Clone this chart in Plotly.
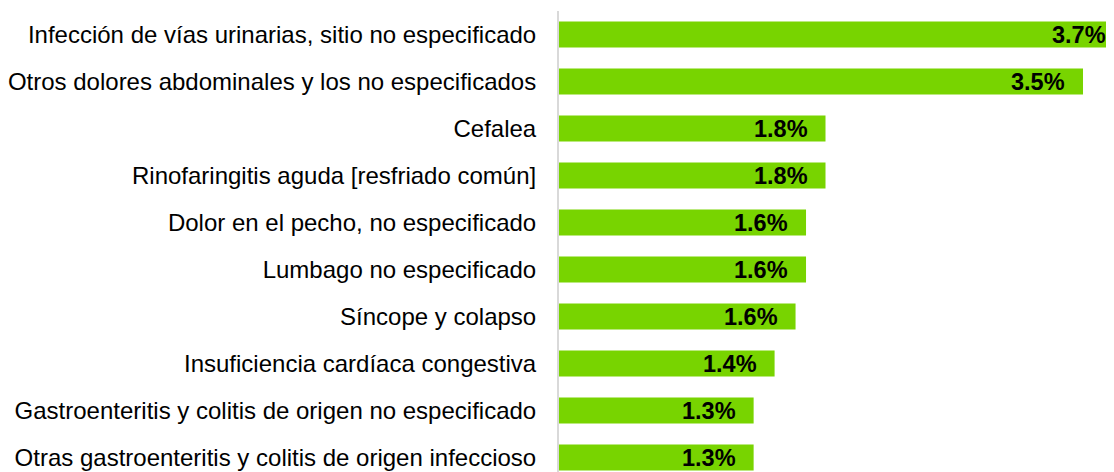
import plotly.graph_objects as go

categories = [
    "Infección de vías urinarias, sitio no especificado",
    "Otros dolores abdominales y los no especificados",
    "Cefalea",
    "Rinofaringitis aguda [resfriado común]",
    "Dolor en el pecho, no especificado",
    "Lumbago no especificado",
    "Síncope y colapso",
    "Insuficiencia cardíaca congestiva",
    "Gastroenteritis y colitis de origen no especificado",
    "Otras gastroenteritis y colitis de origen infeccioso",
]
values = [3.72, 3.50, 1.78, 1.78, 1.65, 1.65, 1.58, 1.44, 1.30, 1.30]
labels = ["3.7%", "3.5%", "1.8%", "1.8%", "1.6%", "1.6%", "1.6%", "1.4%", "1.3%", "1.3%"]

BAR_COLOR = "#78D400"
FONT = "Arial, 'Liberation Sans', sans-serif"
XMAX = 3.707

# page body has an 8px margin, so the figure is sized to fit the window
PAGE_PAD = 8
W, H = 1114 - PAGE_PAD, 472 - PAGE_PAD
M_T, M_L = 11 - PAGE_PAD, 559 - PAGE_PAD
slot_px = 47
n_units = (H - M_T) / slot_px

fig = go.Figure()
fig.add_trace(go.Bar(
    x=values, y=categories, orientation="h",
    marker=dict(color=BAR_COLOR, line=dict(width=0)),
    hoverinfo="skip",
))

annotations = []
for c, v, t in zip(categories, values, labels):
    clipped = v > XMAX
    annotations.append(dict(
        x=min(v, XMAX), y=c, xref="x", yref="y",
        text=f"<b>{t}</b>", showarrow=False,
        xanchor="right", yanchor="middle",
        xshift=-6 if clipped else -16,
        font=dict(family=FONT, size=23.5, color="#000000"),
    ))

fig.update_layout(
    width=W, height=H,
    margin=dict(l=M_L, r=0, t=M_T, b=0, pad=0),
    paper_bgcolor="white", plot_bgcolor="white",
    bargap=1 - 26 / slot_px,
    showlegend=False,
    annotations=annotations,
    font=dict(family=FONT, size=24, color="#000000"),
)
fig.update_xaxes(range=[0, XMAX], visible=False, showgrid=False, zeroline=False)
fig.update_yaxes(
    type="category", range=[-0.5 + n_units, -0.5],
    showline=True, linecolor="#D9D9D9", linewidth=2,
    showgrid=False, zeroline=False, ticks="",
    ticklabelstandoff=16,
    tickfont=dict(family=FONT, size=24, color="#000000"),
)

fig.write_html("out.html")
